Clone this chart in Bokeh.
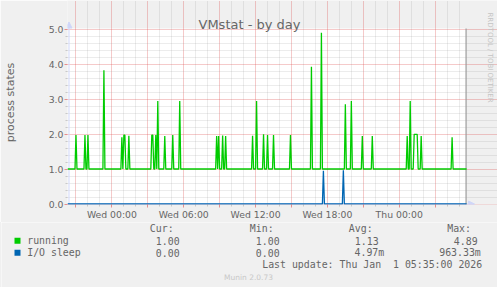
import math
import pandas as pd
from bokeh.plotting import figure
from bokeh.layouts import column, row
from bokeh.models import (Range1d, FixedTicker, Label, Arrow, NormalHead,
                          BoxAnnotation, Spacer)
from bokeh.embed import file_html
from bokeh.resources import INLINE

# ---------------- data ----------------
running_times = [
    "2025-12-30 21:00", "2025-12-30 21:45", "2025-12-30 22:00", "2025-12-30 23:20",
    "2025-12-31 00:50", "2025-12-31 01:00", "2025-12-31 01:05", "2025-12-31 01:25",
    "2025-12-31 03:20", "2025-12-31 03:25", "2025-12-31 03:40", "2025-12-31 03:50",
    "2025-12-31 04:25", "2025-12-31 05:05", "2025-12-31 05:40",
    "2025-12-31 08:45", "2025-12-31 08:55", "2025-12-31 09:15", "2025-12-31 09:30",
    "2025-12-31 11:45", "2025-12-31 12:05", "2025-12-31 12:40", "2025-12-31 13:00",
    "2025-12-31 13:30", "2025-12-31 14:55", "2025-12-31 16:40", "2025-12-31 17:30",
    "2025-12-31 19:30", "2025-12-31 20:00", "2025-12-31 20:55", "2025-12-31 21:45",
    "2026-01-01 00:40", "2026-01-01 00:55", "2026-01-01 01:15", "2026-01-01 01:20",
    "2026-01-01 01:25", "2026-01-01 01:30", "2026-01-01 01:50", "2026-01-01 04:25",
]
running_peaks = [
    1.97, 1.97, 1.97, 3.82,
    1.91, 1.97, 1.97, 1.95,
    1.97, 1.97, 1.97, 2.94,
    1.94, 1.97, 2.94,
    1.94, 1.94, 1.96, 1.94,
    1.95, 2.94, 1.99, 1.97,
    1.97, 1.97, 3.92, 4.89,
    2.85, 2.94, 1.94, 1.94,
    1.94, 2.94, 1.99, 1.99,
    1.99, 1.99, 1.94, 1.91,
]
running_base = 1.0

io_times = ["2025-12-31 17:40", "2025-12-31 19:20"]
io_peaks = [0.95, 0.96333]
io_base = 0.0

series_names = ["running", "I/O sleep"]
stat_headers = ["Cur:", "Min:", "Avg:", "Max:"]
running_stats = ["1.00", "1.00", "1.13", "4.89"]
io_stats = ["0.00", "0.00", "4.97m", "963.33m"]
last_update = "Last update: Thu Jan \u00a01 05:35:00 2026"
footer = "Munin 2.0.73"
side_text = "RRDTOOL / TOBI OETIKER"
title_text = "VMstat - by day"

x_tick_times = ["2025-12-31 00:00", "2025-12-31 06:00", "2025-12-31 12:00",
                "2025-12-31 18:00", "2026-01-01 00:00"]
x_tick_labels = ["Wed 00:00", "Wed 06:00", "Wed 12:00", "Wed 18:00", "Thu 00:00"]
y_ticks = [0, 1, 2, 3, 4, 5]
y_tick_labels = ["0.0", "1.0", "2.0", "3.0", "4.0", "5.0"]

# ---------------- styling / layout ----------------
RUN_COLOR = "#00CC00"
IO_COLOR = "#0066B3"
FONT_COLOR = "#666666"
AXIS_COLOR = "#CFD6F8"
BACK = "#F0F0F0"
MGRID = "#DE4F4F"
GRID = "#8F8F8F"
W, H = 497, 287
H1 = 222                 # height of the chart part
FL, FB = 66, 204         # frame left / bottom (canvas px)
DATA_R, DATA_T = 466, 28  # right / top edge of the white plotting canvas
MIN_PER_PX = 5
PX_PER_UNIT = 35

x_start = pd.Timestamp("2025-12-30 20:17:30")
x_end = x_start + pd.Timedelta(minutes=MIN_PER_PX * (DATA_R - FL))
y_start = -0.5 / PX_PER_UNIT
y_top = (FB - DATA_T) / PX_PER_UNIT - 0.5 / PX_PER_UNIT


def ms(t):
    return pd.Timestamp(t).value / 1e6


def px_to_ms(px):
    return ms(x_start) + (px - FL) * MIN_PER_PX * 60000


def py_to_val(py):
    return (FB - 0.5 - py) / PX_PER_UNIT


def series_points(times, peaks, base):
    step = pd.Timedelta(minutes=MIN_PER_PX)
    ts = pd.to_datetime(times)
    pts = {x_start: base, x_end: base}
    for t in ts:
        pts.setdefault(t - step, base)
        pts.setdefault(t + step, base)
    for t, v in zip(ts, peaks):
        pts[t] = v
    keys = sorted(pts)
    return [ms(k) for k in keys], [pts[k] for k in keys]


p = figure(width=W, height=H1, x_axis_type="datetime", output_backend="svg",
           toolbar_location=None, title=None,
           x_range=Range1d(ms(x_start), px_to_ms(W)),
           y_range=Range1d(y_start, (FB - 0.5) / PX_PER_UNIT),
           min_border_left=FL, min_border_right=0,
           min_border_top=0, min_border_bottom=H1 - FB,
           background_fill_color=BACK, border_fill_color=BACK,
           outline_line_color=None)

# white plotting canvas
p.add_layout(BoxAnnotation(left=ms(x_start), right=ms(x_end), bottom=y_start, top=y_top,
                           fill_color="white", fill_alpha=1.0, line_color=None,
                           level="image"))

# x axis ticks
x_major = [ms(t) for t in pd.date_range("2025-12-30 21:00", "2026-01-01 03:00", freq="3h")]
x_minor = [ms(t) for t in pd.date_range("2025-12-30 21:00", "2026-01-01 05:00", freq="1h")]
x_minor = [t for t in x_minor if t not in x_major]
label_map = {ms(t): lab for t, lab in zip(x_tick_times, x_tick_labels)}
xaxis = p.xaxis[0]
xaxis.bounds = (ms(x_start), ms(x_end))
xaxis.ticker = FixedTicker(ticks=x_major, minor_ticks=x_minor)
xaxis.major_label_overrides = {t: label_map.get(t, "") for t in x_major}
xaxis.axis_line_color = None
xaxis.major_tick_line_color = MGRID
xaxis.major_tick_line_alpha = 0.6
xaxis.major_tick_out = 3
xaxis.major_tick_in = 0
xaxis.minor_tick_line_color = GRID
xaxis.minor_tick_line_alpha = 0.4
xaxis.minor_tick_out = 2
xaxis.minor_tick_in = 0
xaxis.major_label_standoff = 1
xaxis.major_label_text_font = "DejaVu Sans"
xaxis.major_label_text_font_size = "9.3px"
xaxis.major_label_text_color = FONT_COLOR

# y axis
y_minor = [round(0.2 * i, 1) for i in range(26) if i % 5 != 0]
yaxis = p.yaxis[0]
yaxis.bounds = (y_start, y_top)
yaxis.ticker = FixedTicker(ticks=y_ticks, minor_ticks=y_minor)
yaxis.major_label_overrides = {t: lab for t, lab in zip(y_ticks, y_tick_labels)}
yaxis.axis_line_color = None
yaxis.major_tick_line_color = MGRID
yaxis.major_tick_line_alpha = 0.6
yaxis.major_tick_out = 3
yaxis.major_tick_in = 0
yaxis.minor_tick_line_color = GRID
yaxis.minor_tick_line_alpha = 0.4
yaxis.minor_tick_out = 2
yaxis.minor_tick_in = 0
yaxis.major_label_standoff = 1
yaxis.major_label_text_font = "DejaVu Sans"
yaxis.major_label_text_font_size = "9.3px"
yaxis.major_label_text_color = FONT_COLOR
yaxis.axis_label = "process states"
yaxis.axis_label_text_font = "DejaVu Sans"
yaxis.axis_label_text_font_size = "11px"
yaxis.axis_label_text_font_style = "normal"
yaxis.axis_label_text_color = FONT_COLOR
yaxis.axis_label_standoff = 29

# grids
for g in (p.xgrid[0], p.ygrid[0]):
    g.grid_line_color = MGRID
    g.grid_line_alpha = 0.6
    g.grid_line_dash = "1 1"
    g.minor_grid_line_color = GRID
    g.minor_grid_line_alpha = 0.35
    g.minor_grid_line_dash = "1 1"

# axis lines with arrows
AX_X = px_to_ms(FL + 1.5)
p.add_layout(Arrow(end=NormalHead(size=6, fill_color=AXIS_COLOR, line_color=AXIS_COLOR),
                   x_start=AX_X, y_start=0, x_end=AX_X, y_end=py_to_val(21.5),
                   line_color=AXIS_COLOR, line_width=1, level="underlay"))
p.add_layout(Arrow(end=NormalHead(size=6, fill_color=AXIS_COLOR, line_color=AXIS_COLOR),
                   x_start=ms(x_start), y_start=0, x_end=px_to_ms(474), y_end=0,
                   line_color=AXIS_COLOR, line_width=1, level="underlay"))

# right edge line of the plotting canvas
p.segment(x0=[px_to_ms(DATA_R - 0.5)], y0=[y_start], x1=[px_to_ms(DATA_R - 0.5)], y1=[y_top],
          line_color="#9A9A9A", line_width=1.2)

# data lines
ix, iy = series_points(io_times, io_peaks, io_base)
rx, ry = series_points(running_times, running_peaks, running_base)
p.line(ix, iy, line_color=IO_COLOR, line_width=1.3)
p.line(rx, ry, line_color=RUN_COLOR, line_width=1.3)

# title and side text (inside the extended frame)
p.add_layout(Label(x=248 - FL, y=FB - 24.3, x_units="screen", y_units="screen",
                   text=title_text, text_font="DejaVu Sans", text_font_size="13px",
                   text_color=FONT_COLOR, text_align="center",
                   text_baseline="alphabetic"))
p.add_layout(Label(x=488 - FL, y=FB - 12, x_units="screen", y_units="screen",
                   text=side_text, text_font="DejaVu Sans", text_font_size="7px",
                   text_color="#C4C4C4", text_align="left", text_baseline="middle",
                   angle=-math.pi / 2))

# ---------------- legend / stats part ----------------
# (a 1px spacer keeps this figure from being frame-aligned with the chart above)
b = figure(width=W - 1, height=H - H1, output_backend="svg", toolbar_location=None,
           title=None, x_range=Range1d(1, W), y_range=Range1d(H, H1),
           min_border=0, min_border_left=0, min_border_right=0,
           min_border_top=0, min_border_bottom=0,
           x_axis_location=None, y_axis_location=None,
           background_fill_color=BACK, border_fill_color=BACK,
           outline_line_color=None)
b.grid.visible = False

b.rect(x=[17, 17], y=[240.2, 252.2], width=6, height=6,
       fill_color=[RUN_COLOR, IO_COLOR], line_color=None)


def add_label(fig, text, x, y, font="DejaVu Sans Mono", size="9.9px", color=FONT_COLOR,
              align="left"):
    fig.add_layout(Label(x=x, y=y, text=text, text_font=font, text_font_size=size,
                         text_color=color, text_align=align, text_baseline="middle"))


add_label(b, series_names[0], 26.7, 240)
add_label(b, series_names[1], 26.7, 252)
header_x = [149.3, 249.3, 348.3, 446.7]
for txt, x in zip(stat_headers, header_x):
    add_label(b, txt, x, 228)
row1_x = [155.3, 255.3, 354.3, 453.3]
for txt, x in zip(running_stats, row1_x):
    add_label(b, txt, x, 240)
row2_x = [155.3, 255.3, 354.0, 438.7]
for txt, x in zip(io_stats, row2_x):
    add_label(b, txt, x, 252)
add_label(b, last_update, 261.7, 264)
add_label(b, footer, 248, 276.5, font="DejaVu Sans", size="7.5px", color="#C8C8C8",
          align="center")

spacer = Spacer(width=1, height=H - H1, styles={"background-color": BACK})
layout = column(p, row(spacer, b, spacing=0), spacing=0)
open("out.html", "w").write(file_html(layout, INLINE))
